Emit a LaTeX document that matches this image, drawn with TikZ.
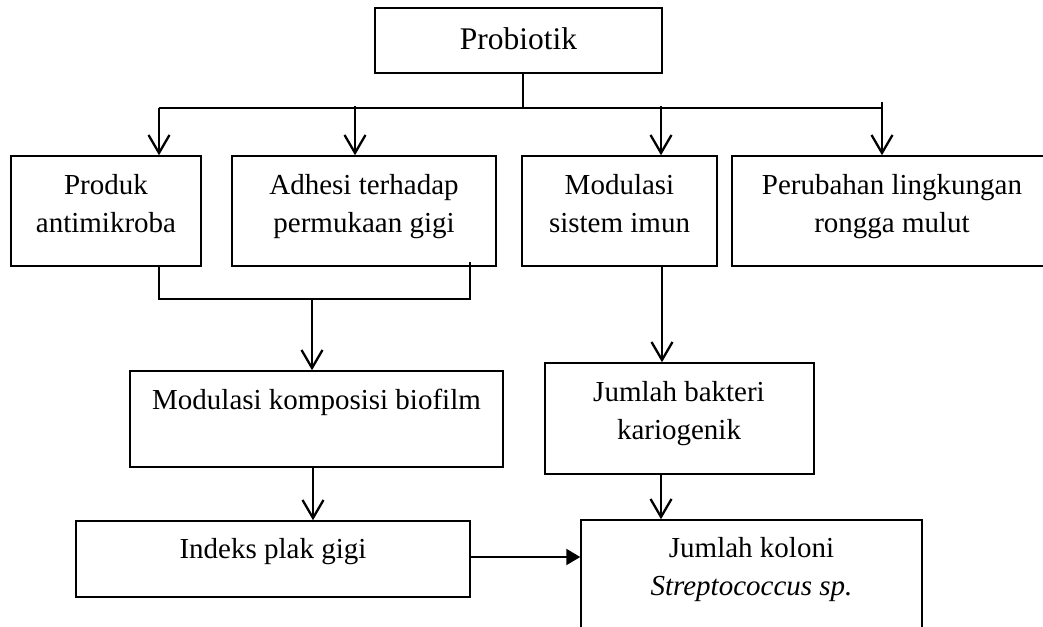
\documentclass[tikz,border=0pt]{standalone}
\usepackage{fontspec}
\setmainfont{Liberation Serif}
\usetikzlibrary{arrows.meta}
\newcommand{\twolines}[2]{\begin{tabular}[t]{@{}c@{}}#1\\#2\end{tabular}}
\begin{document}
\begin{tikzpicture}[x=1pt,y=-1pt,
  box/.style={draw, line width=1.5pt, inner sep=0pt, rectangle},
  txt/.style={inner sep=0pt, anchor=base, font=\fontsize{29}{38}\selectfont},
  conn/.style={line width=2.3pt},
  arr/.style={conn, -{Straight Barb[length=18pt,width=21pt]}},
  arrf/.style={conn, -{Triangle[length=14pt,width=16pt]}}]
\useasboundingbox (0,0) rectangle (1043,626);
\fill[white] (0,0) rectangle (1043,626);
\clip (0,0) rectangle (1043,626);

% boxes
\node[box, minimum width=287, minimum height=65] (prob) at (518.5,40.5) {};
\node[box, minimum width=190, minimum height=110] (b1) at (106,211) {};
\node[box, minimum width=264, minimum height=110] (b2) at (364,211) {};
\node[box, minimum width=195, minimum height=110] (b3) at (619.5,211) {};
\node[box, minimum width=320, minimum height=110] (b4) at (892,211) {};
\node[box, minimum width=373, minimum height=96] (bio) at (316.5,419) {};
\node[box, minimum width=394, minimum height=76] (ind) at (273,559) {};
\node[box, minimum width=269, minimum height=111] (bak) at (679.5,418.5) {};
\node[box, minimum width=341, minimum height=140] (kol) at (751.5,590) {};

% texts
\node[txt, font=\fontsize{31.5}{38}\selectfont] (prob-t) at (518.5,49) {Probiotik};
\node[txt] (b1-t) at (106,194) {\twolines{Produk}{antimikroba}};
\node[txt] (b2-t) at (364,194) {\twolines{Adhesi terhadap}{permukaan gigi}};
\node[txt] (b3-t) at (619.5,194) {\twolines{Modulasi}{sistem imun}};
\node[txt] (b4-t) at (892,194) {\twolines{Perubahan lingkungan}{rongga mulut}};
\node[txt] (bio-t) at (316.5,409) {Modulasi komposisi biofilm};
\node[txt] (ind-t) at (273,558) {Indeks plak gigi};
\node[txt] (bak-t) at (679,401) {\twolines{Jumlah bakteri}{kariogenik}};
\node[txt] (kol-t) at (751.5,557) {\twolines{Jumlah koloni}{\textit{Streptococcus sp.}}};

% coordinates
\coordinate (ps) at (523,73);
\coordinate (bl) at (159,108);
\coordinate (br) at (882,108);
\coordinate (brt) at (882,102);
\coordinate (a2) at (355,106);
\coordinate (a3) at (661,106);
\coordinate (m1) at (159,266);
\coordinate (m1b) at (159,299);
\coordinate (m2t) at (470,262);
\coordinate (m2b) at (471,299);
\coordinate (ms) at (312,299);
\coordinate (bs) at (313,467);
\coordinate (s3) at (662,266);
\coordinate (bks) at (661,474);
\coordinate (hs) at (470,557);

% connectors
\draw[conn] (ps) -- (ps |- bl);
\draw[conn] (bl) -- (br) -- (brt);
\draw[arr] (bl) -- (bl |- b1.north);
\draw[arr] (a2) -- (a2 |- b2.north);
\draw[arr] (a3) -- (a3 |- b3.north);
\draw[arr] (br) -- (br |- b4.north);
\draw[conn] (m1) -- (m1b) -- (m2b);
\draw[conn] (m2t) -- (m2t |- m2b);
\draw[arr] (ms) -- (ms |- bio.north);
\draw[arr] (bs) -- (bs |- ind.north);
\draw[arrf] (hs) -- (hs -| kol.west);
\draw[arr] (s3) -- (s3 |- bak.north);
\draw[arr] (bks) -- (bks |- kol.north);
\end{tikzpicture}
\end{document}
